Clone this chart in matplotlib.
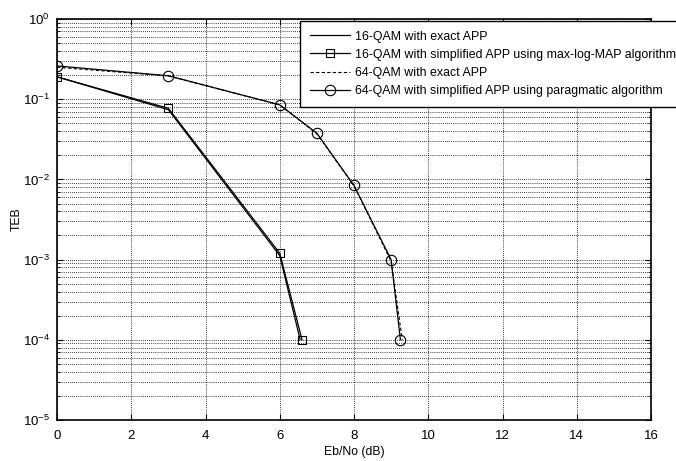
import matplotlib.pyplot as plt
import numpy as np
from matplotlib.ticker import LogLocator, NullFormatter

plt.rcParams['font.family'] = ['Liberation Sans', 'DejaVu Sans']
plt.rcParams['mathtext.fontset'] = 'custom'
plt.rcParams['mathtext.rm'] = 'Liberation Sans'
plt.rcParams['mathtext.it'] = 'Liberation Sans'

# 16-QAM curves
x16_exact = [0, 3, 6, 6.55]
y16_exact = [0.19, 0.074, 1.12e-3, 1e-4]
x16_simp = [0, 3, 6, 6.6]
y16_simp = [0.19, 0.077, 1.2e-3, 1e-4]

# 64-QAM curves
x64_exact = [0, 3, 6, 7, 8, 9, 9.3]
y64_exact = [0.25, 0.195, 0.085, 0.037, 0.0083, 9.5e-4, 1e-4]
x64_simp = [0, 3, 6, 7, 8, 9, 9.25]
y64_simp = [0.26, 0.196, 0.085, 0.0376, 0.0084, 1.0e-3, 1e-4]

labels = ['16-QAM with exact APP',
          '16-QAM with simplified APP using max-log-MAP algorithm',
          '64-QAM with exact APP',
          '64-QAM with simplified APP using paragmatic algorithm']

fig = plt.figure(figsize=(6.76, 4.61), dpi=100)
ax = fig.add_axes([57/676, 41/461, 594/676, 401/461])

lw = 0.9
ax.semilogy(x16_exact, y16_exact, '-', color='black', lw=lw, label=labels[0])
ax.semilogy(x16_simp, y16_simp, '-s', color='black', lw=lw, ms=6,
            mfc='none', mew=0.8, label=labels[1])
ax.semilogy(x64_exact, y64_exact, '--', color='black', lw=0.8,
            dashes=(3, 2), label=labels[2])
ax.semilogy(x64_simp, y64_simp, '-o', color='black', lw=lw, ms=7.5,
            mfc='none', mew=0.8, label=labels[3])

ax.set_xlim(0, 16)
ax.set_ylim(1e-5, 1)
ax.set_xticks(np.arange(0, 17, 2))
ax.yaxis.set_major_locator(LogLocator(base=10, numticks=10))
ax.yaxis.set_minor_locator(LogLocator(base=10, subs=np.arange(2, 10), numticks=20))
ax.yaxis.set_minor_formatter(NullFormatter())

ax.grid(True, which='major', axis='both', color='black', ls=(0, (1, 1.5)), lw=0.6)
ax.grid(True, which='minor', axis='y', color='black', ls=(0, (1, 1.5)), lw=0.6)
ax.tick_params(which='both', direction='in', top=True, right=True, labelsize=9.5)
ax.tick_params(which='major', length=4, width=0.8)
ax.tick_params(which='minor', length=2, width=0.6)
ax.tick_params(axis='x', pad=7)
ax.tick_params(axis='y', pad=5)
for s in ax.spines.values():
    s.set_linewidth(1.2)

ax.set_xlabel('Eb/No (dB)', fontsize=8.8, labelpad=3)
ax.set_ylabel('TEB', fontsize=8.8, labelpad=0)

leg = ax.legend(loc='upper left', bbox_to_anchor=(300/676, 1 - 21/461),
                bbox_transform=fig.transFigure, fontsize=8.9, frameon=True,
                fancybox=False, framealpha=1, edgecolor='black',
                handlelength=3.3, handletextpad=0.35, labelspacing=0.5,
                borderaxespad=0, borderpad=0.78)
leg.get_frame().set_linewidth(1.0)

fig.savefig('out.png', dpi=100)
